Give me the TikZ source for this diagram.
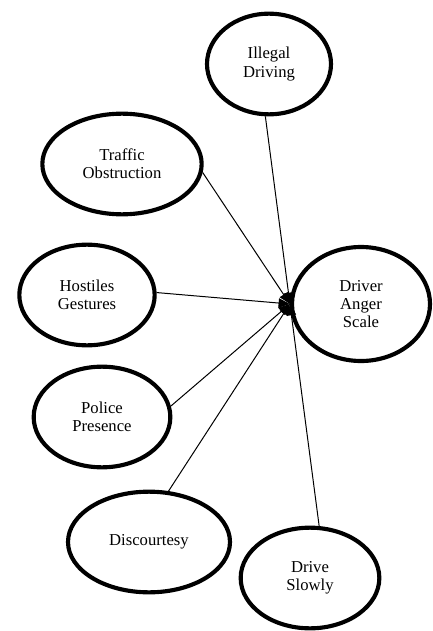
\documentclass[tikz,border=0pt]{standalone}
\usepackage{fontspec}
\setmainfont{Liberation Serif}
\usepackage{tikz}
\usetikzlibrary{positioning,shapes.geometric,arrows.meta}

\begin{document}
\begin{tikzpicture}[
		factor/.style={draw, ellipse, line width=3.1pt, inner sep=0pt, minimum height=75.5pt, align=center, font=\fontsize{12.5}{13.7}\selectfont},
		path/.style={line width=0.75pt, -{Triangle[length=8.5pt,width=7pt]}},
		on grid
	]
		\useasboundingbox (0,0) rectangle (324pt,-473.25pt);
		\node [factor, minimum width=103.5pt, minimum height=85.5pt] (das) at (270.75pt,-228pt) {Driver\\Anger\\Scale};
		\node [factor, minimum width=93pt, above left=180pt and 69pt of das] (ill) {Illegal\\Driving};
		\node [factor, minimum width=119.5pt, above left=105pt and 179.25pt of das] (traf) {Traffic\\Obstruction};
		\node [factor, minimum width=101.5pt, above left=6.75pt and 205.5pt of das] (host) {Hostiles\\Gestures};
		\node [factor, minimum width=102.5pt, below left=84.75pt and 194.25pt of das] (pol) {Police\\Presence};
		\node [factor, minimum width=121.5pt, below left=178.5pt and 159pt of das] (disc) {Discourtesy};
		\node [factor, minimum width=104pt, below left=205.5pt and 38.25pt of das] (slow) {Drive\\Slowly};
		\draw [path] (ill.266) -- (das.west);
		\draw [path] (traf.-6) -- (das.west);
		\draw [path] (host.2) -- (das.west);
		\draw [path] (pol.9) -- (das.west);
		\draw [path] (disc.69) -- (das.west);
		\draw [path] (slow.80) -- (das.west);
	\end{tikzpicture}
\end{document}
